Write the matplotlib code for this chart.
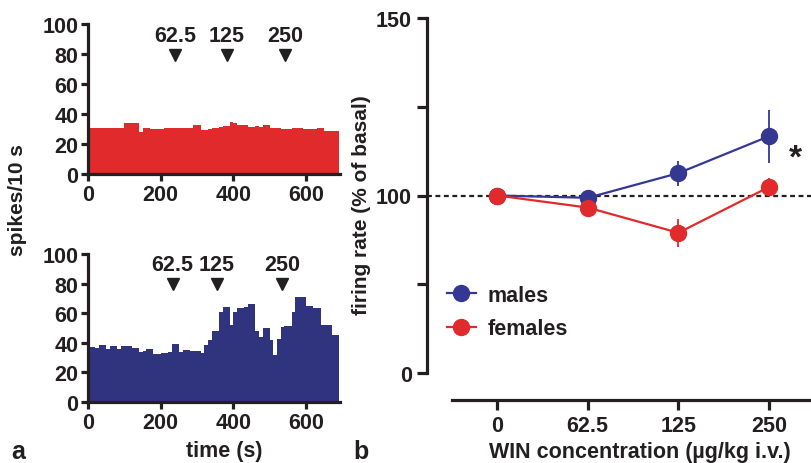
import numpy as np
import matplotlib
matplotlib.use("Agg")
import matplotlib.pyplot as plt
from matplotlib.lines import Line2D

plt.rcParams['font.family'] = ['Liberation Sans', 'DejaVu Sans']
plt.rcParams['font.weight'] = 'bold'

# ---------------- data ----------------
BIN_S = 10
females_rate = [31, 31, 31, 31, 31, 31, 31, 31, 31, 31,
                33.8, 33.8, 33.8, 33.8, 28, 31, 30.5, 30, 30, 30,
                30.3, 31, 30.5, 30.5, 30.5, 30.5, 31, 31, 31, 32.8,
                32.8, 29.5, 29.5, 29.8, 30.7, 31, 31.5, 32, 32, 34.5,
                34, 33, 33, 32.5, 31.5, 31.5, 32, 31.5, 33, 33,
                31, 31, 30.5, 30, 30, 29.8, 30.5, 30.5, 30.5, 30.3,
                30.3, 29.8, 30.3, 31, 30.8, 29, 28.7, 28.5, 28.5]
males_rate = [37, 37, 36.3, 38.2, 38.2, 36, 38, 38, 35.5, 38,
              38, 38, 36.4, 36.4, 34, 34.5, 36, 36, 32.4, 32.4,
              33.3, 33.3, 34, 39, 39, 33.7, 35.3, 35.3, 34.2, 34.2,
              34.2, 33.3, 38.7, 41.6, 48.3, 48.3, 60.7, 64, 64, 52,
              60.7, 63.4, 63.4, 64, 66.3, 66.3, 48, 43.8, 50, 50,
              41.6, 31.5, 42.7, 50.6, 51.2, 51.2, 61, 70.8, 70.8, 70.8,
              65, 65, 63.4, 63.4, 52, 52, 52, 45, 45]

dose_labels = ["62.5", "125", "250"]
inj_times_top = [240, 382, 542]
inj_times_bottom = [233, 354, 533]

conc_labels = ["0", "62.5", "125", "250"]
males_mean = [100, 98.7, 106.3, 116.7]
males_sem = [0, 0, 3.5, 7.5]
females_mean = [100, 93.2, 79.0, 102.4]
females_sem = [0, 0, 8.0, 2.4]

RED = '#e02a2b'
BLUE_H = '#30347f'
BLUE = '#353893'
TXT = '#231f20'

W, H = 812, 464
fig = plt.figure(figsize=(W / 100, H / 100), dpi=100)
PT = 72 / 100  # points per pixel


def px_axes(l, t, r, b):
    return fig.add_axes([l / W, 1 - b / H, (r - l) / W, (b - t) / H])


def style_left(ax):
    for s in ['top', 'right']:
        ax.spines[s].set_visible(False)
    for s in ['left', 'bottom']:
        ax.spines[s].set_linewidth(2.3)
        ax.spines[s].set_color(TXT)
    ax.tick_params(width=2.3, length=5, color=TXT, labelsize=15.5, labelcolor=TXT, pad=2)
    ax.set_ylim(0, 100)
    ax.set_xlim(0, 693)
    ax.set_yticks([0, 20, 40, 60, 80, 100])
    ax.set_xticks([0, 200, 400, 600])


def draw_hist(ax, vals, color, inj, label_dy):
    edges = np.arange(len(vals) + 1) * BIN_S
    ax.stairs(vals, edges, fill=True, color=color, linewidth=0, baseline=0)
    style_left(ax)
    for t, lab in zip(inj, dose_labels):
        ax.plot([t], [79.5], marker='v', ms=9, color=TXT, ls='none', clip_on=False)
        ax.text(t, 79.5 + label_dy, lab, ha='center', va='center', fontsize=15.5,
                color=TXT, fontweight='bold')


ax1 = px_axes(88, 25, 340, 175)
draw_hist(ax1, females_rate, RED, inj_times_top, 12.5)
ax2 = px_axes(88, 255, 340, 403)
draw_hist(ax2, males_rate, BLUE_H, inj_times_bottom, 13.5)

fig.text(18 / W, 1 - 200 / H, "spikes/10 s", rotation=90, ha='center', va='center',
         fontsize=15, color=TXT, fontweight='bold')
fig.text(224 / W, 1 - 452 / H, "time (s)", ha='center', va='center', fontsize=15.5,
         color=TXT, fontweight='bold')
fig.text(18 / W, 1 - 452 / H, "a", ha='center', va='center', fontsize=18, color=TXT,
         fontweight='bold')
fig.text(361 / W, 1 - 452 / H, "b", ha='center', va='center', fontsize=18, color=TXT,
         fontweight='bold')

# ---------------- panel b ----------------
def fwd(y):
    y = np.asarray(y, dtype=float)
    return np.where(y <= 100, y, 100 + (y - 100) * 2)


def inv(y):
    y = np.asarray(y, dtype=float)
    return np.where(y <= 100, y, 100 + (y - 100) / 2)


ax3 = px_axes(427, 19, 812, 374)
ax3.set_yscale('function', functions=(fwd, inv))
ax3.set_ylim(0, 150)
xi = np.arange(len(conc_labels))
ax3.set_xlim(-0.772, 3.473)

ax3.axhline(100, color=TXT, ls=(0, (2.2, 1.6)), lw=1.6, zorder=1, clip_on=False)
ax3.errorbar(xi, males_mean, yerr=males_sem, color=BLUE, lw=1.6, elinewidth=1.3,
             marker='o', ms=11.5, mec=BLUE, capsize=0, zorder=3, clip_on=False)
ax3.errorbar(xi, females_mean, yerr=females_sem, color=RED, lw=1.6, elinewidth=1.3,
             marker='o', ms=11.5, mec=RED, capsize=0, zorder=4, clip_on=False)
ax3.text(3.29, 110.5, "*", ha='center', va='center', fontsize=24, color=TXT,
         fontweight='bold')

for s in ['top', 'right']:
    ax3.spines[s].set_visible(False)
for s in ['left', 'bottom']:
    ax3.spines[s].set_linewidth(2.3)
    ax3.spines[s].set_color(TXT)
ax3.spines['bottom'].set_position(('outward', 27 * PT))
ax3.spines['bottom'].set_bounds(-0.5, 3.473)
ax3.set_yticks([0, 100, 150])
ax3.set_yticks([50, 125], minor=True)
ax3.yaxis.set_minor_formatter(matplotlib.ticker.NullFormatter())
ax3.set_xticks(xi)
ax3.set_xticklabels(conc_labels)
ax3.tick_params(axis='both', which='both', width=2.3, length=7,
                color=TXT, labelsize=15.5, labelcolor=TXT, pad=4)
fig.text(640 / W, 1 - 453 / H, "WIN concentration (\u00b5g/kg i.v.)", ha='center',
         va='center', fontsize=15.5, color=TXT, fontweight='bold')
fig.text(362 / W, 1 - 205 / H, "firing rate (% of basal)", rotation=90, ha='center',
         va='center', fontsize=15, color=TXT, fontweight='bold')

handles = [Line2D([], [], color=BLUE, lw=1.6, marker='o', ms=11.5),
           Line2D([], [], color=RED, lw=1.6, marker='o', ms=11.5)]
leg = ax3.legend(handles, ['males', 'females'], loc='center left',
                 bbox_to_anchor=((438 - 427) / 385, 1 - (313 - 19) / 355),
                 frameon=False, fontsize=15.5, handlelength=1.35, handletextpad=0.55,
                 labelspacing=0.6, borderaxespad=0)
for t in leg.get_texts():
    t.set_color(TXT)

fig.savefig("out.png", dpi=100)
